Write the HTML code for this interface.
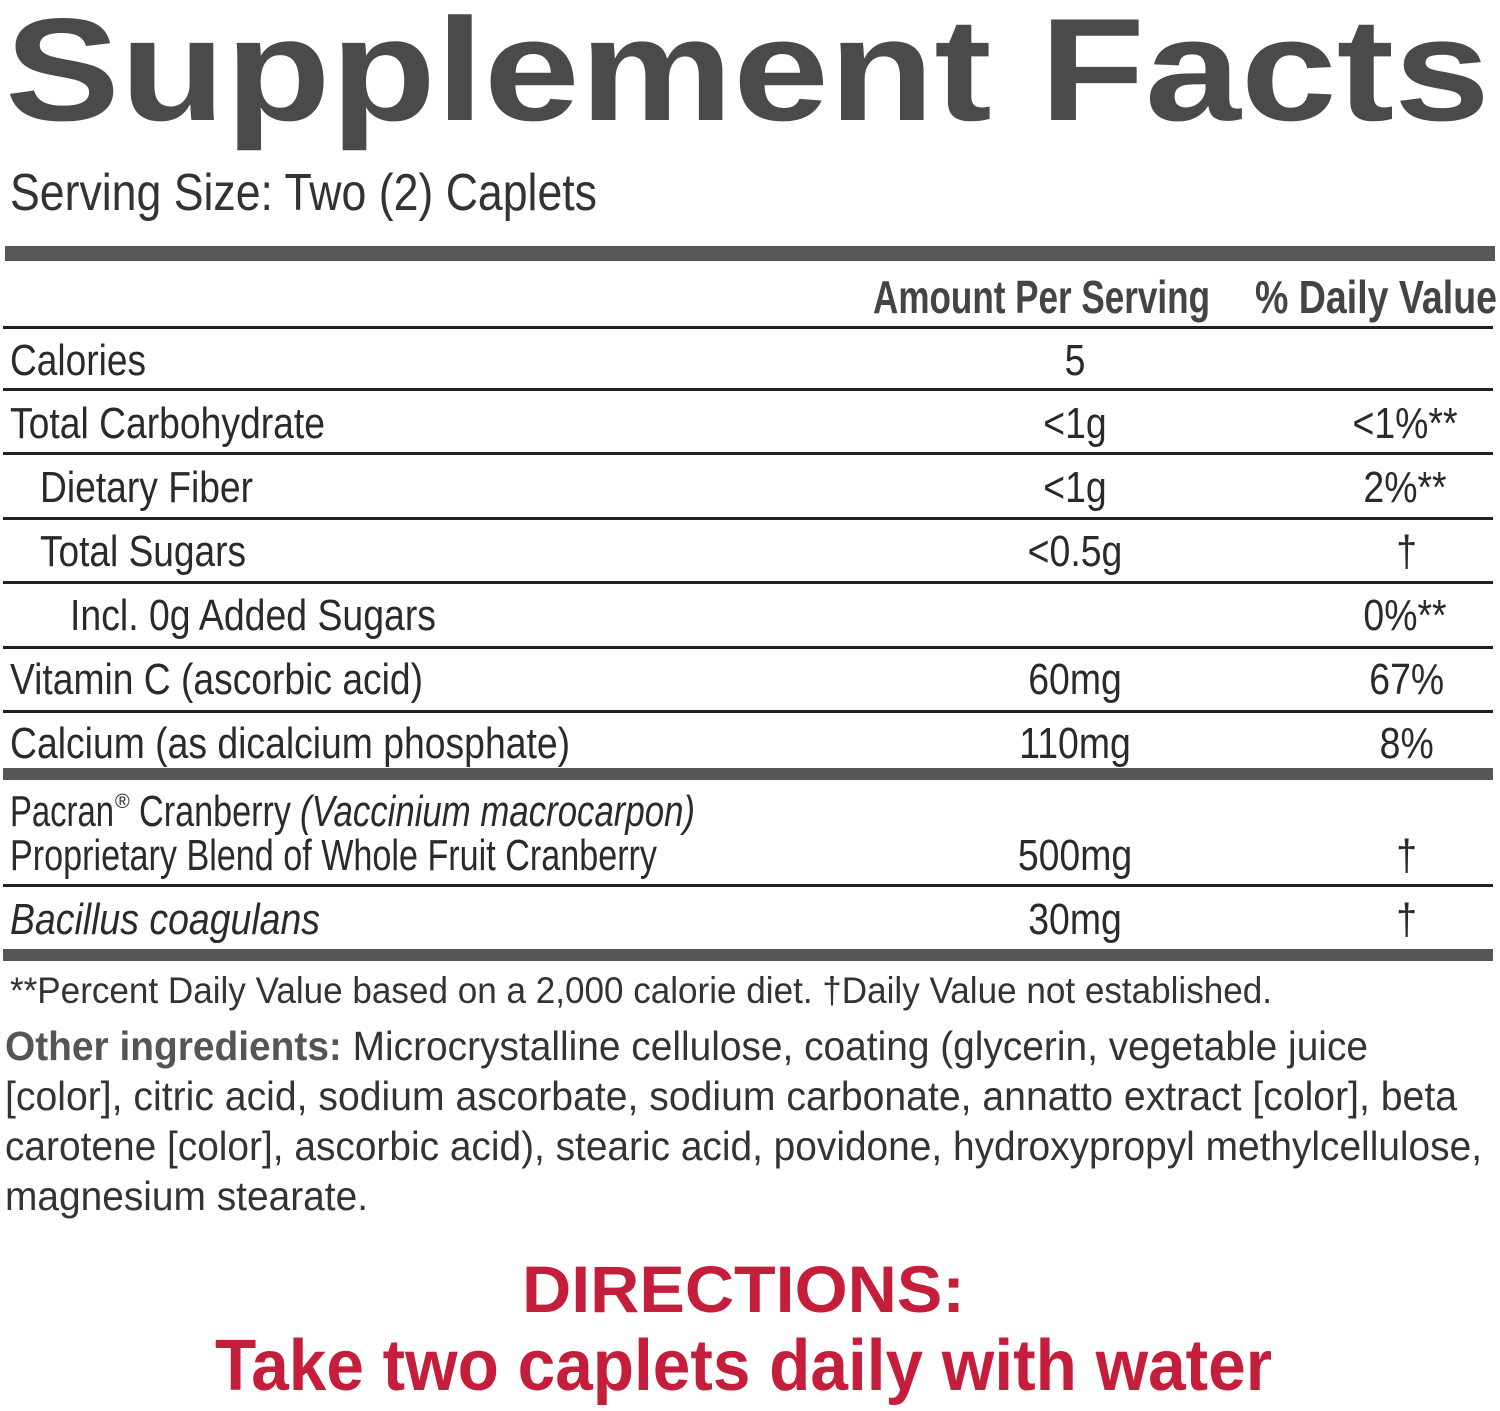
<!DOCTYPE html>
<html><head><meta charset="utf-8"><style>
html,body{margin:0;padding:0;background:#fff;}
svg{display:block;}
text{font-family:"Liberation Sans",sans-serif;}
</style></head><body>
<svg width="1500" height="1411" viewBox="0 0 1500 1411" xmlns="http://www.w3.org/2000/svg">
<g fill="#4a4a4d">
<text x="5" y="120" font-size="146" font-weight="bold" textLength="1485" lengthAdjust="spacingAndGlyphs">Supplement Facts</text>
</g>
<g fill="#2a2a2a">
<text x="10" y="210" font-size="52" textLength="587" lengthAdjust="spacingAndGlyphs" fill="#333">Serving Size: Two (2) Caplets</text>
<rect x="5" y="246" width="1490" height="15" fill="#57575a"/>
<text x="873" y="313" font-size="46" font-weight="bold" textLength="337" lengthAdjust="spacingAndGlyphs" fill="#444">Amount Per Serving</text>
<text x="1255" y="313" font-size="46" font-weight="bold" textLength="242" lengthAdjust="spacingAndGlyphs" fill="#444">% Daily Value</text>
<rect x="3" y="326" width="1490" height="3" fill="#222"/>
<rect x="3" y="388" width="1490" height="3" fill="#222"/>
<rect x="3" y="452" width="1490" height="3" fill="#222"/>
<rect x="3" y="517" width="1490" height="3" fill="#222"/>
<rect x="3" y="581" width="1490" height="3" fill="#222"/>
<rect x="3" y="646" width="1490" height="3" fill="#222"/>
<rect x="3" y="710" width="1490" height="3" fill="#222"/>
<rect x="3" y="768" width="1490" height="12" fill="#555"/>
<rect x="3" y="884" width="1490" height="3" fill="#222"/>
<rect x="3" y="949" width="1490" height="12" fill="#555"/>
<g font-size="44">
<text x="10" y="375" textLength="136" lengthAdjust="spacingAndGlyphs">Calories</text>
<text x="10" y="438" textLength="315" lengthAdjust="spacingAndGlyphs">Total Carbohydrate</text>
<text x="40" y="502" textLength="213" lengthAdjust="spacingAndGlyphs">Dietary Fiber</text>
<text x="40" y="566" textLength="206" lengthAdjust="spacingAndGlyphs">Total Sugars</text>
<text x="70" y="630" textLength="366" lengthAdjust="spacingAndGlyphs">Incl. 0g Added Sugars</text>
<text x="10" y="694" textLength="413" lengthAdjust="spacingAndGlyphs">Vitamin C (ascorbic acid)</text>
<text x="10" y="758" textLength="560" lengthAdjust="spacingAndGlyphs">Calcium (as dicalcium phosphate)</text>
<text x="10" y="826" textLength="104" lengthAdjust="spacingAndGlyphs">Pacran</text>
<text x="115" y="808" font-size="20">®</text>
<text x="139" y="826" textLength="152" lengthAdjust="spacingAndGlyphs">Cranberry</text>
<text x="300" y="826" font-style="italic" textLength="395" lengthAdjust="spacingAndGlyphs">(Vaccinium macrocarpon)</text>
<text x="10" y="870" textLength="647" lengthAdjust="spacingAndGlyphs">Proprietary Blend of Whole Fruit Cranberry</text>
<text x="10" y="934" font-style="italic" textLength="310" lengthAdjust="spacingAndGlyphs">Bacillus coagulans</text>
<g text-anchor="middle" transform="translate(1075,0) scale(0.85,1)">
<text x="0" y="375">5</text>
<text x="0" y="438">&lt;1g</text>
<text x="0" y="502">&lt;1g</text>
<text x="0" y="566">&lt;0.5g</text>
<text x="0" y="694">60mg</text>
<text x="0" y="758">110mg</text>
<text x="0" y="870">500mg</text>
<text x="0" y="934">30mg</text>
</g>
<g text-anchor="middle" transform="translate(1405,0) scale(0.85,1)">
<text x="0" y="438">&lt;1%**</text>
<text x="0" y="502">2%**</text>
<text x="2" y="566">†</text>
<text x="0" y="630">0%**</text>
<text x="2" y="694">67%</text>
<text x="2" y="758">8%</text>
<text x="2" y="870">†</text>
<text x="2" y="934">†</text>
</g>
</g>
<text x="10" y="1003" font-size="37" textLength="1262" lengthAdjust="spacingAndGlyphs" fill="#333">**Percent Daily Value based on a 2,000 calorie diet.  †Daily Value not established.</text>
<g font-size="41" fill="#333">
<text x="5" y="1060" textLength="1363" lengthAdjust="spacingAndGlyphs"><tspan font-weight="bold" fill="#555">Other ingredients:</tspan> Microcrystalline cellulose, coating (glycerin, vegetable juice</text>
<text x="5" y="1110" textLength="1452" lengthAdjust="spacingAndGlyphs">[color], citric acid, sodium ascorbate, sodium carbonate, annatto extract [color], beta</text>
<text x="5" y="1160" textLength="1477" lengthAdjust="spacingAndGlyphs">carotene [color], ascorbic acid), stearic acid, povidone, hydroxypropyl methylcellulose,</text>
<text x="5" y="1210" textLength="363" lengthAdjust="spacingAndGlyphs">magnesium stearate.</text>
</g>
</g>
<g fill="#c41e3a" font-weight="bold">
<text x="522" y="1312" font-size="66" textLength="443" lengthAdjust="spacingAndGlyphs">DIRECTIONS:</text>
<text x="215" y="1390" font-size="72" textLength="1057" lengthAdjust="spacingAndGlyphs">Take two caplets daily with water</text>
</g>
</svg>
</body></html>
